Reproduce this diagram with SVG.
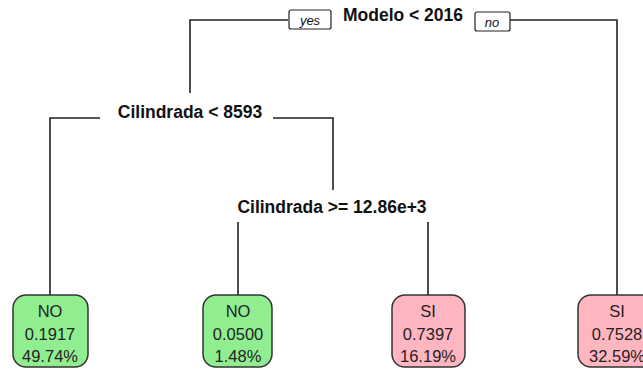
<svg xmlns="http://www.w3.org/2000/svg" width="643" height="370" viewBox="0 0 643 370">
<style>
.ln{fill:none;stroke:#222;stroke-width:1.6}
.split{font-family:"Liberation Sans",Arial,sans-serif;font-weight:bold;font-size:17.5px;fill:#111;text-anchor:middle}
.yn{font-family:"Liberation Sans",Arial,sans-serif;font-style:italic;font-size:13px;fill:#111;text-anchor:middle}
.ynbox{fill:#fff;stroke:#222;stroke-width:1.2}
.leaf{font-family:"Liberation Sans",Arial,sans-serif;font-size:16.5px;fill:#222;text-anchor:middle}
.no{fill:#90EE90;stroke:#333;stroke-width:1.5}
.si{fill:#FFB6C1;stroke:#333;stroke-width:1.5}
</style>
<rect width="643" height="370" fill="#fff"/>
<g id="connectors">
<polyline class="ln" points="288,20 190,20 190,93"/>
<polyline class="ln" points="510,20 617,20 617,295"/>
<polyline class="ln" points="100,118 50,118 50,295"/>
<polyline class="ln" points="273,118 333,118 333,190"/>
<line class="ln" x1="238" y1="222" x2="238" y2="295"/>
<line class="ln" x1="428" y1="222" x2="428" y2="295"/>
<rect class="ynbox" x="289" y="10" width="42" height="19" rx="2"/>
<text class="yn" x="310" y="25">yes</text>
<rect class="ynbox" x="475" y="12" width="35" height="19" rx="2"/>
<text class="yn" x="492" y="27">no</text>
</g>
<g id="n1"><text class="split" x="403" y="21">Modelo &lt; 2016</text></g>
<g id="n2"><text class="split" x="190" y="118">Cilindrada &lt; 8593</text></g>
<g id="n3"><text class="split" x="332" y="213">Cilindrada &gt;= 12.86e+3</text></g>
<g id="leaf1">
<rect class="no" x="13" y="295" width="75" height="72" rx="13"/>
<text class="leaf" x="50" y="317">NO</text>
<text class="leaf" x="50" y="340">0.1917</text>
<text class="leaf" x="50" y="362">49.74%</text>
</g>
<g id="leaf2">
<rect class="no" x="203" y="295" width="69" height="72" rx="13"/>
<text class="leaf" x="238" y="317">NO</text>
<text class="leaf" x="238" y="340">0.0500</text>
<text class="leaf" x="238" y="362">1.48%</text>
</g>
<g id="leaf3">
<rect class="si" x="392" y="295" width="73" height="72" rx="13"/>
<text class="leaf" x="428" y="317">SI</text>
<text class="leaf" x="428" y="340">0.7397</text>
<text class="leaf" x="428" y="362">16.19%</text>
</g>
<g id="leaf4">
<rect class="si" x="578" y="295" width="78" height="72" rx="13"/>
<text class="leaf" x="617" y="317">SI</text>
<text class="leaf" x="617" y="340">0.7528</text>
<text class="leaf" x="617" y="362">32.59%</text>
</g>
</svg>
